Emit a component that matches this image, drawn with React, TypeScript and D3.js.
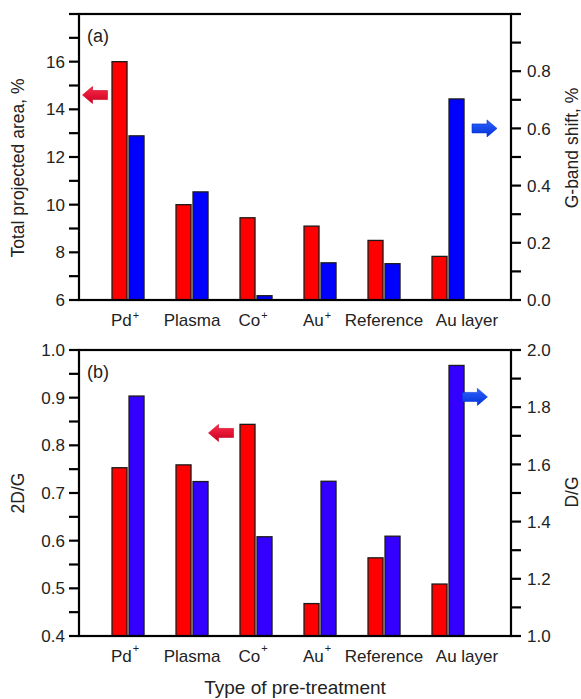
import React from "react";
import * as d3 from "d3";

const categories = ["Pd", "Plasma", "Co", "Au", "Reference", "Au layer"];
const superscripts = ["+", "", "+", "+", "", ""];

// Panel (a)
const projectedArea = [16.0, 10.0, 9.45, 9.1, 8.5, 7.83]; // left axis, %
const gBandShift = [0.574, 0.378, 0.015, 0.13, 0.127, 0.703]; // right axis, %
// Panel (b)
const ratio2DG = [0.753, 0.759, 0.844, 0.468, 0.564, 0.509]; // left axis
const ratioDG = [1.839, 1.54, 1.347, 1.541, 1.349, 1.946]; // right axis

const aLeftTicks = [6, 8, 10, 12, 14, 16];
const aRightTicks = [0.0, 0.2, 0.4, 0.6, 0.8];
const bLeftTicks = [0.4, 0.5, 0.6, 0.7, 0.8, 0.9, 1.0];
const bRightTicks = [1.0, 1.2, 1.4, 1.6, 1.8, 2.0];

const W = 581;
const H = 699;
const X0 = 79;
const X1 = 511;
const FONT = "Liberation Sans, Arial, sans-serif";

type PanelProps = {
  id: string;
  top: number;
  bottom: number;
  leftDomain: [number, number];
  rightDomain: [number, number];
  leftMajor: number[];
  leftMinorStep: number;
  leftFmt: (v: number) => string;
  rightMajor: number[];
  rightMinorStep: number;
  rightFmt: (v: number) => string;
  red: number[];
  blue: number[];
  blueColor: string;
  leftTitle: string;
  leftTitleY: number;
  rightTitle: string;
  rightTitleY: number;
  tag: string;
  redArrow: [number, number]; // [x index, left value]
  blueArrow: [number, number]; // [x index, right value]
  supShift: number;
};

const x = d3.scaleLinear().domain([-0.766, 5.984]).range([X0, X1]);

function Arrow({ cx, cy, dir, color, dark, id }: { cx: number; cy: number; dir: number; color: string; dark: string; id: string }) {
  const L = 25;
  const head = 10;
  const hh = 8.5;
  const bh = 4.5;
  const tip = cx + dir * (L / 2);
  const back = cx - dir * (L / 2);
  const neck = tip - dir * head;
  const pts = [
    [tip, cy],
    [neck, cy - hh],
    [neck, cy - bh],
    [back, cy - bh],
    [back, cy + bh],
    [neck, cy + bh],
    [neck, cy + hh],
  ];
  return (
    <g>
      <defs>
        <linearGradient id={id} x1="0" y1="0" x2="0" y2="1">
          <stop offset="0" stopColor={color} />
          <stop offset="1" stopColor={dark} />
        </linearGradient>
      </defs>
      <polygon points={pts.map((p) => p.join(",")).join(" ")} fill={`url(#${id})`} stroke={dark} strokeWidth={0.6} />
    </g>
  );
}

function Panel(p: PanelProps) {
  const yl = d3.scaleLinear().domain(p.leftDomain).range([p.bottom, p.top]);
  const yr = d3.scaleLinear().domain(p.rightDomain).range([p.bottom, p.top]);
  const leftMinor = d3.range(p.leftDomain[0], p.leftDomain[1] + 1e-9, p.leftMinorStep);
  const rightMinor = d3.range(p.rightDomain[0], p.rightDomain[1] + 1e-9, p.rightMinorStep);
  const TL = 10;
  return (
    <g fontFamily={FONT} fill="#111">
      {categories.map((c, i) => {
        const cx = x(i);
        return (
          <g key={c}>
            <rect x={cx - 16} y={yl(p.red[i])} width={15} height={p.bottom - yl(p.red[i])} fill="#ff0000" stroke="#1a1a1a" strokeWidth={1.3} />
            <rect x={cx + 1} y={yr(p.blue[i])} width={15} height={p.bottom - yr(p.blue[i])} fill={p.blueColor} stroke="#1a1a1a" strokeWidth={1.3} />
          </g>
        );
      })}
      <rect x={X0} y={p.top} width={X1 - X0} height={p.bottom - p.top} fill="none" stroke="#000" strokeWidth={2.2} />
      {leftMinor.map((v, i) => (
        <line key={"lm" + i} x1={X0 - TL} x2={X0} y1={yl(v)} y2={yl(v)} stroke="#000" strokeWidth={2.2} />
      ))}
      {rightMinor.map((v, i) => (
        <line key={"rm" + i} x1={X1} x2={X1 + TL} y1={yr(v)} y2={yr(v)} stroke="#000" strokeWidth={2.2} />
      ))}
      {p.leftMajor.map((v) => (
        <text key={"lt" + v} x={X0 - 14} y={yl(v)} dy="0.36em" textAnchor="end" fontSize={17} fill="#222">
          {p.leftFmt(v)}
        </text>
      ))}
      {p.rightMajor.map((v) => (
        <text key={"rt" + v} x={X1 + 16} y={yr(v)} dy="0.36em" textAnchor="start" fontSize={17} fill="#222">
          {p.rightFmt(v)}
        </text>
      ))}
      {categories.map((c, i) => {
        const lx = x(i) + (i === categories.length - 1 ? 19 : 0) - (superscripts[i] ? 3 : 0);
        return (
          <text key={"cl" + c} x={lx} y={p.bottom + 26} textAnchor="middle" fontSize={17} fill="#222">
            {c}
            {superscripts[i] && (
              <tspan fontSize={11} dy={p.supShift} dx={1}>
                {superscripts[i]}
              </tspan>
            )}
          </text>
        );
      })}
      <text transform={`translate(24,${p.leftTitleY}) rotate(-90)`} textAnchor="middle" fontSize={17.5} fill="#222">
        {p.leftTitle}
      </text>
      <text transform={`translate(578,${p.rightTitleY}) rotate(-90)`} textAnchor="middle" fontSize={17.5} fill="#222">
        {p.rightTitle}
      </text>
      <text x={87} y={p.top + 28} fontSize={18} fill="#222">
        {p.tag}
      </text>
      <Arrow id={"redArrow" + p.id} cx={x(p.redArrow[0])} cy={yl(p.redArrow[1])} dir={-1} color="#ff2a4a" dark="#c8001e" />
      <Arrow id={"blueArrow" + p.id} cx={x(p.blueArrow[0])} cy={yr(p.blueArrow[1])} dir={1} color="#2f63ff" dark="#0030d8" />
    </g>
  );
}

export default function App() {
  const f0 = (v: number) => d3.format("d")(v);
  const f1 = (v: number) => d3.format(".1f")(v);
  return (
    <svg width={W} height={H} style={{ position: "absolute", left: 0, top: 0, background: "#fff" }}>
      <rect width={W} height={H} fill="#fff" />
      <Panel
        id="A"
        top={14}
        bottom={300}
        leftDomain={[6, 18]}
        rightDomain={[0, 1]}
        leftMajor={aLeftTicks}
        leftMinorStep={1}
        leftFmt={f0}
        rightMajor={aRightTicks}
        rightMinorStep={0.1}
        rightFmt={f1}
        red={projectedArea}
        blue={gBandShift}
        blueColor="#0000ff"
        leftTitle="Total projected area, %"
        leftTitleY={168}
        rightTitle="G-band shift, %"
        rightTitleY={148}
        tag="(a)"
        redArrow={[-0.516, 14.6]}
        blueArrow={[5.57, 0.6]}
        supShift={-7}
      />
      <Panel
        id="B"
        top={350}
        bottom={636}
        leftDomain={[0.4, 1.0]}
        rightDomain={[1.0, 2.0]}
        leftMajor={bLeftTicks}
        leftMinorStep={0.05}
        leftFmt={f1}
        rightMajor={bRightTicks}
        rightMinorStep={0.1}
        rightFmt={f1}
        red={ratio2DG}
        blue={ratioDG}
        blueColor="#3300ff"
        leftTitle="2D/G"
        leftTitleY={493}
        rightTitle="D/G"
        rightTitleY={492}
        tag="(b)"
        redArrow={[1.453, 0.826]}
        blueArrow={[5.42, 1.836]}
        supShift={-10}
      />
      <text x={295} y={694} textAnchor="middle" fontSize={19} fontFamily={FONT} fill="#222">
        Type of pre-treatment
      </text>
    </svg>
  );
}
